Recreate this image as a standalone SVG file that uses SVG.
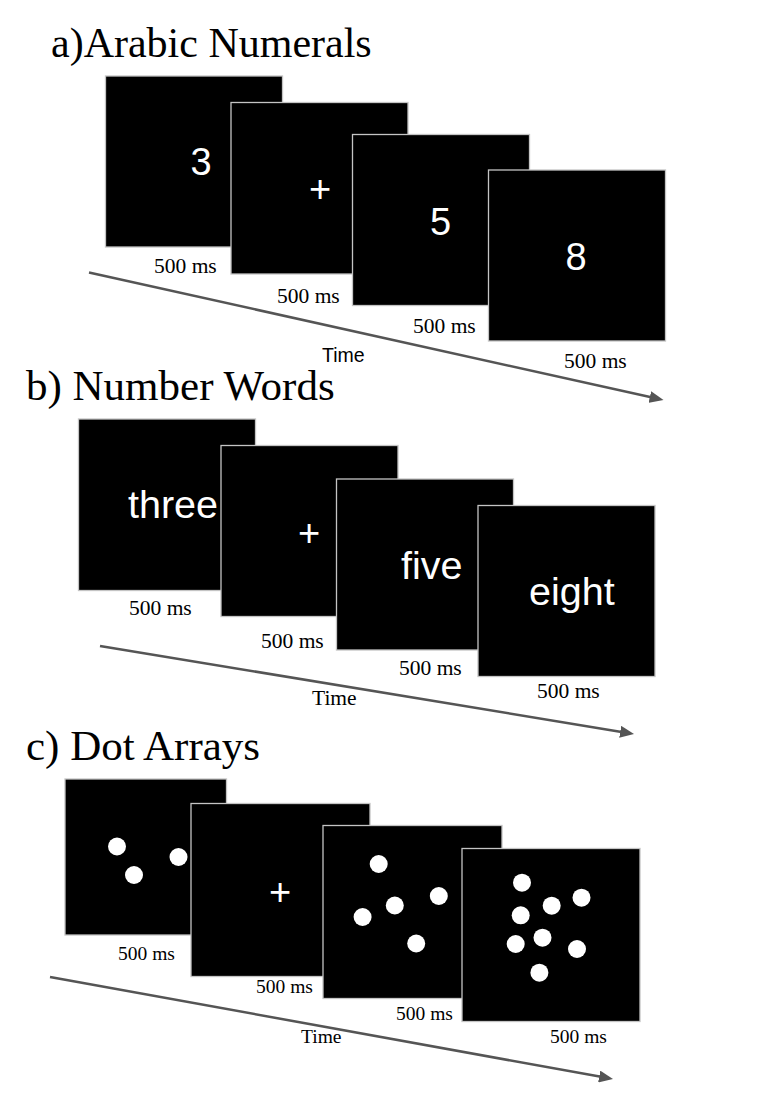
<svg xmlns="http://www.w3.org/2000/svg" width="760" height="1093" viewBox="0 0 760 1093">
<style>
.bg{fill:#ffffff}
.scr{fill:#000000;stroke:#c4c4c4;stroke-width:1.3}
.title{font-family:"Liberation Serif","Times New Roman",serif;font-size:42px;fill:#000}
.title2{font-family:"Liberation Serif","Times New Roman",serif;font-size:43px;fill:#000}
.lbl{font-family:"Liberation Serif","Times New Roman",serif;font-size:21.5px;fill:#000}
.lblc{font-family:"Liberation Serif","Times New Roman",serif;font-size:19.5px;fill:#000}
.timesans{font-family:"Liberation Sans",Arial,sans-serif;font-size:19.5px;fill:#000}
.stim{font-family:"Liberation Sans",Arial,sans-serif;font-size:38px;fill:#fff}
.word{font-family:"Liberation Sans",Arial,sans-serif;font-size:39.5px;fill:#fff}
.dot{fill:#fff}
.arrow{stroke:#555;stroke-width:2.5;fill:none;marker-end:url(#ah)}
</style>
<defs>
<marker id="ah" markerUnits="userSpaceOnUse" markerWidth="16" markerHeight="12" refX="6" refY="6" orient="auto">
<path d="M0,0 L14,6 L0,12 z" fill="#555"/>
</marker>
</defs>
<rect class="bg" x="0" y="0" width="760" height="1093"/>

<!-- Panel a -->
<text id="title-a" class="title" x="51" y="57">a)Arabic Numerals</text>
<g id="connectors-a">
<line class="arrow" x1="89" y1="272.5" x2="655.7" y2="398.3"/>
</g>
<text id="time-a" class="timesans" x="322" y="361.5">Time</text>
<g id="a1">
<rect class="scr" x="105.5" y="76" width="177" height="171"/>
<text class="stim" x="201" y="175" text-anchor="middle">3</text>
<text class="lbl" x="154" y="273">500 ms</text>
</g>
<g id="a2">
<rect class="scr" x="231" y="102.5" width="177" height="171.5"/>
<text class="stim" x="320" y="202" text-anchor="middle">+</text>
<text class="lbl" x="277" y="303">500 ms</text>
</g>
<g id="a3">
<rect class="scr" x="352.5" y="134.5" width="177" height="171"/>
<text class="stim" x="440.5" y="235" text-anchor="middle">5</text>
<text class="lbl" x="413" y="333">500 ms</text>
</g>
<g id="a4">
<rect class="scr" x="488.5" y="170" width="177" height="171"/>
<text class="stim" x="576" y="270" text-anchor="middle">8</text>
<text class="lbl" x="564" y="368">500 ms</text>
</g>

<!-- Panel b -->
<text id="title-b" class="title2" x="26" y="400">b) Number Words</text>
<g id="connectors-b">
<line class="arrow" x1="100" y1="646" x2="626.1" y2="732.7"/>
</g>
<text id="time-b" class="lbl" x="312" y="705">Time</text>
<g id="b1">
<rect class="scr" x="78.5" y="419" width="177" height="171.5"/>
<text class="word" x="128" y="518">three</text>
<text class="lbl" x="129" y="615">500 ms</text>
</g>
<g id="b2">
<rect class="scr" x="221" y="445.5" width="177" height="171"/>
<text class="stim" x="309" y="546" text-anchor="middle">+</text>
<text class="lbl" x="261" y="648">500 ms</text>
</g>
<g id="b3">
<rect class="scr" x="336.5" y="479" width="177" height="171"/>
<text class="word" x="401" y="579">five</text>
<text class="lbl" x="399" y="675">500 ms</text>
</g>
<g id="b4">
<rect class="scr" x="478" y="505.5" width="177" height="171"/>
<text class="word" x="529" y="605">eight</text>
<text class="lbl" x="537" y="698">500 ms</text>
</g>

<!-- Panel c -->
<text id="title-c" class="title2" x="26" y="760">c) Dot Arrays</text>
<g id="connectors-c">
<line class="arrow" x1="50" y1="977" x2="605.1" y2="1077.6"/>
</g>
<text id="time-c" class="lblc" x="301" y="1043">Time</text>
<g id="c1">
<rect class="scr" x="65" y="779" width="161.5" height="156"/>
<circle class="dot" cx="117" cy="846.5" r="9"/>
<circle class="dot" cx="178.5" cy="857" r="9"/>
<circle class="dot" cx="134" cy="875" r="9"/>
<text class="lblc" x="118" y="960">500 ms</text>
</g>
<g id="c2">
<rect class="scr" x="191" y="803.5" width="179" height="173"/>
<text class="stim" x="280" y="904.5" text-anchor="middle">+</text>
<text class="lblc" x="256" y="993">500 ms</text>
</g>
<g id="c3">
<rect class="scr" x="323" y="825.5" width="179" height="173"/>
<circle class="dot" cx="378.7" cy="864" r="9"/>
<circle class="dot" cx="438.8" cy="896" r="9"/>
<circle class="dot" cx="394.8" cy="905.5" r="9"/>
<circle class="dot" cx="362.6" cy="917" r="9"/>
<circle class="dot" cx="416.2" cy="943.5" r="9"/>
<text class="lblc" x="396" y="1020">500 ms</text>
</g>
<g id="c4">
<rect class="scr" x="462" y="848.5" width="178" height="173"/>
<circle class="dot" cx="522" cy="882.7" r="9"/>
<circle class="dot" cx="581.5" cy="897.7" r="9"/>
<circle class="dot" cx="551.7" cy="905.7" r="9"/>
<circle class="dot" cx="520.7" cy="915.3" r="9"/>
<circle class="dot" cx="542.5" cy="937.7" r="9"/>
<circle class="dot" cx="515.7" cy="944" r="9"/>
<circle class="dot" cx="577" cy="949" r="9"/>
<circle class="dot" cx="539.4" cy="972.7" r="9"/>
<text class="lblc" x="550" y="1043">500 ms</text>
</g>
</svg>
